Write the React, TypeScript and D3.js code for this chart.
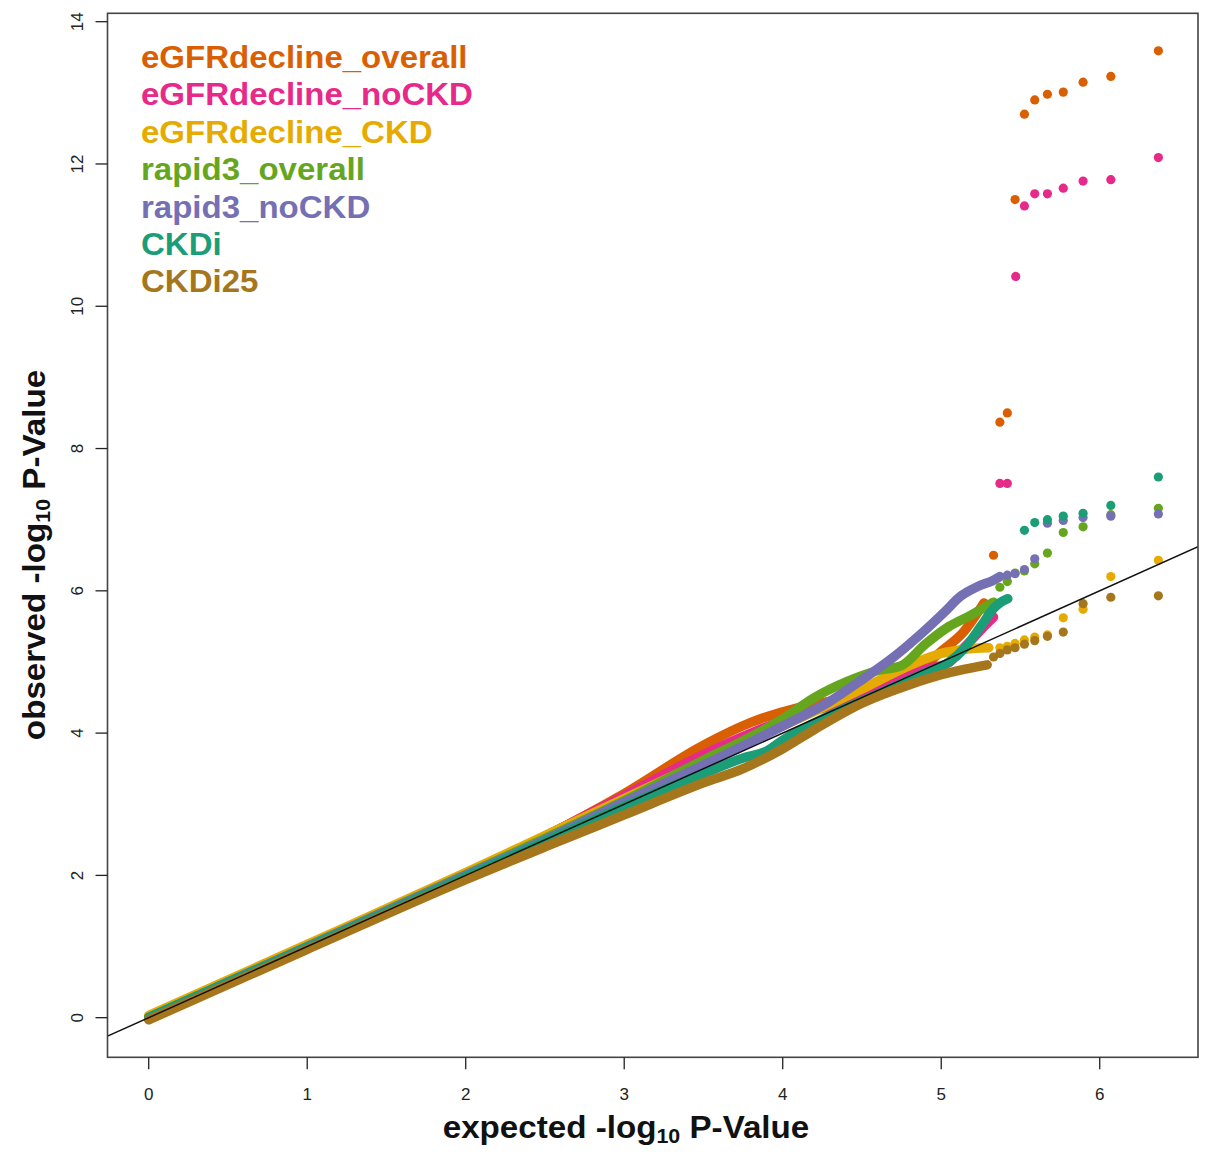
import React from 'react';
import * as d3 from 'd3';

// ---------- data ----------
const seriesNames = [
  'eGFRdecline_overall',
  'eGFRdecline_noCKD',
  'eGFRdecline_CKD',
  'rapid3_overall',
  'rapid3_noCKD',
  'CKDi',
  'CKDi25',
];
const seriesColors = ['#D95F02', '#E7298A', '#E6AB02', '#66A61E', '#7570B3', '#1B9E77', '#A6761D'];

// dense part of each QQ curve: [expected, observed]
const overallBody: [number, number][] = [
  [0, 0], [1, 1.0], [2, 2.02], [2.5, 2.55], [3.0, 3.15], [3.5, 3.83], [3.8, 4.15], [4.1, 4.36],
  [4.3, 4.45], [4.5, 4.55], [4.7, 4.72], [4.9, 4.95], [5.0, 5.15], [5.14, 5.42], [5.27, 5.83],
];
const noCkdBody: [number, number][] = [
  [0, 0], [1, 1.0], [2, 2.02], [2.5, 2.55], [3.0, 3.12], [3.5, 3.7], [3.8, 4.0], [4.1, 4.25],
  [4.4, 4.45], [4.7, 4.72], [4.9, 4.9], [5.04, 4.98], [5.12, 5.15], [5.2, 5.33], [5.28, 5.52], [5.33, 5.63],
];
const ckdBody: [number, number][] = [
  [0, 0.03], [1, 1.03], [2, 2.04], [2.5, 2.56], [3.0, 3.08], [3.5, 3.6], [4.0, 4.1], [4.5, 4.62],
  [4.8, 4.95], [5.0, 5.12], [5.15, 5.18], [5.3, 5.2],
];
const rapidBody: [number, number][] = [
  [0, 0], [1, 1.0], [2, 2.01], [2.5, 2.52], [3.0, 3.05], [3.5, 3.62], [3.8, 3.95], [4.0, 4.2],
  [4.2, 4.5], [4.4, 4.72], [4.6, 4.88], [4.75, 4.95], [4.9, 5.25], [5.05, 5.5], [5.19, 5.66], [5.33, 5.84],
];
const rapidNoCkdBody: [number, number][] = [
  [0, 0], [1, 1.0], [2, 2.0], [2.5, 2.5], [3.0, 3.03], [3.5, 3.55], [4.0, 4.1], [4.3, 4.45],
  [4.5, 4.75], [4.7, 5.07], [4.9, 5.45], [5.02, 5.7], [5.12, 5.92], [5.23, 6.06], [5.33, 6.15], [5.37, 6.2],
];
const ckdiBody: [number, number][] = [
  [0, 0], [1, 0.99], [2, 1.98], [2.5, 2.48], [3.0, 2.97], [3.5, 3.43], [3.75, 3.65], [3.9, 3.75],
  [4.0, 3.9], [4.3, 4.25], [4.6, 4.55], [4.9, 4.85], [5.05, 5.0], [5.15, 5.2], [5.25, 5.5], [5.33, 5.75],
  [5.37, 5.83], [5.42, 5.89],
];
const ckdi25Body: [number, number][] = [
  [0, -0.03], [1, 0.96], [2, 1.94], [2.5, 2.4], [3.0, 2.85], [3.5, 3.3], [3.75, 3.5], [4.0, 3.78],
  [4.2, 4.05], [4.5, 4.42], [4.8, 4.68], [5.0, 4.82], [5.15, 4.9], [5.29, 4.96],
];

// sparse tail points: [expected, observed]
const overallTail: [number, number][] = [
  [5.33, 6.5], [5.37, 8.37], [5.417, 8.5], [5.466, 11.5], [5.525, 12.7], [5.59, 12.9], [5.67, 12.98],
  [5.77, 13.01], [5.895, 13.15], [6.07, 13.23], [6.37, 13.59],
];
const noCkdTail: [number, number][] = [
  [5.37, 7.51], [5.417, 7.51], [5.47, 10.42], [5.525, 11.41], [5.59, 11.58], [5.67, 11.58],
  [5.77, 11.66], [5.895, 11.76], [6.07, 11.78], [6.37, 12.09],
];
const ckdTail: [number, number][] = [
  [5.37, 5.2], [5.417, 5.22], [5.466, 5.26], [5.525, 5.31], [5.59, 5.35], [5.67, 5.38],
  [5.77, 5.62], [5.895, 5.74], [6.07, 6.2], [6.37, 6.43],
];
const rapidTail: [number, number][] = [
  [5.37, 6.05], [5.417, 6.13], [5.466, 6.25], [5.525, 6.28], [5.59, 6.38], [5.67, 6.53],
  [5.77, 6.82], [5.895, 6.9], [6.07, 7.07], [6.37, 7.16],
];
const rapidNoCkdTail: [number, number][] = [
  [5.417, 6.22], [5.466, 6.24], [5.525, 6.3], [5.59, 6.45], [5.67, 6.95], [5.77, 6.99],
  [5.895, 7.03], [6.07, 7.05], [6.37, 7.08],
];
const ckdiTail: [number, number][] = [
  [5.525, 6.85], [5.59, 6.96], [5.67, 7.0], [5.77, 7.05], [5.895, 7.09], [6.07, 7.2], [6.37, 7.6],
];
const ckdi25Tail: [number, number][] = [
  [5.33, 5.07], [5.37, 5.12], [5.417, 5.17], [5.466, 5.2], [5.525, 5.25], [5.59, 5.3], [5.67, 5.36],
  [5.77, 5.42], [5.895, 5.82], [6.07, 5.91], [6.37, 5.93],
];

const bodies = [overallBody, noCkdBody, ckdBody, rapidBody, rapidNoCkdBody, ckdiBody, ckdi25Body];
const tails = [overallTail, noCkdTail, ckdTail, rapidTail, rapidNoCkdTail, ckdiTail, ckdi25Tail];

const xTicks = [0, 1, 2, 3, 4, 5, 6];
const yTicks = [0, 2, 4, 6, 8, 10, 12, 14];
const xDomain: [number, number] = [-0.26, 6.62];
const yDomain: [number, number] = [-0.557, 14.118];

// ---------- layout ----------
const W = 1205;
const H = 1152;
const L = 107.5;
const R = 1198;
const T = 13.3;
const B = 1057.3;
const FONT = 'Liberation Sans, Arial, Helvetica, sans-serif';

export default function App() {
  const x = d3.scaleLinear().domain(xDomain).range([L, R]);
  const y = d3.scaleLinear().domain(yDomain).range([B, T]);
  const line = d3
    .line<[number, number]>()
    .x((d) => x(d[0]))
    .y((d) => y(d[1]))
    .curve(d3.curveMonotoneX);
  const diag = d3
    .line<number>()
    .x((d) => x(d))
    .y((d) => y(d));

  return (
    <svg
      width={W}
      height={H}
      style={{ position: 'absolute', left: 0, top: 0, background: '#fff' }}
      fontFamily={FONT}
    >
      <defs>
        <clipPath id="plot">
          <rect x={L} y={T} width={R - L} height={B - T} />
        </clipPath>
      </defs>
      <rect x={0} y={0} width={W} height={H} fill="#fff" />
      <g clipPath="url(#plot)">
        {bodies.map((b, i) => (
          <path
            key={'b' + i}
            d={line(b) || ''}
            fill="none"
            stroke={seriesColors[i]}
            strokeWidth={9.5}
            strokeLinecap="round"
            strokeLinejoin="round"
          />
        ))}
        {tails.map((t, i) =>
          t.map((p, j) => (
            <circle key={'t' + i + '_' + j} cx={x(p[0])} cy={y(p[1])} r={4.6} fill={seriesColors[i]} />
          ))
        )}
        <path d={diag(xDomain) || ''} stroke="#111" strokeWidth={1.5} fill="none" />
      </g>
      <rect x={L} y={T} width={R - L} height={B - T} fill="none" stroke="#444" strokeWidth={1.6} />
      {xTicks.map((t) => (
        <g key={'xt' + t}>
          <line x1={x(t)} x2={x(t)} y1={B} y2={B + 12} stroke="#222" strokeWidth={1.3} />
          <text x={x(t)} y={1100} textAnchor="middle" fontSize={17} fill="#222">
            {t}
          </text>
        </g>
      ))}
      {yTicks.map((t) => (
        <g key={'yt' + t}>
          <line x1={L - 12} x2={L} y1={y(t)} y2={y(t)} stroke="#222" strokeWidth={1.3} />
          <text
            transform={`translate(83,${y(t)}) rotate(-90)`}
            textAnchor="middle"
            fontSize={17}
            fill="#222"
          >
            {t}
          </text>
        </g>
      ))}
      <g transform="translate(626,1138) scale(1.07,1)">
        <text x={0} y={0} textAnchor="middle" fontSize={31} fontWeight="bold" fill="#111">
          expected -log
          <tspan fontSize={20} dy={5}>10</tspan>
          <tspan dy={-5}> P-Value</tspan>
        </text>
      </g>
      <g transform="translate(45,555) rotate(-90) scale(1.07,1)">
        <text x={0} y={0} textAnchor="middle" fontSize={31} fontWeight="bold" fill="#111">
          observed -log
          <tspan fontSize={20} dy={5}>10</tspan>
          <tspan dy={-5}> P-Value</tspan>
        </text>
      </g>
      {seriesNames.map((n, i) => (
        <g key={n} transform={`translate(141,${68 + 37.4 * i}) scale(1.065,1)`}>
          <text x={0} y={0} fontSize={31} fontWeight="bold" fill={seriesColors[i]}>
            {n}
          </text>
        </g>
      ))}
    </svg>
  );
}
